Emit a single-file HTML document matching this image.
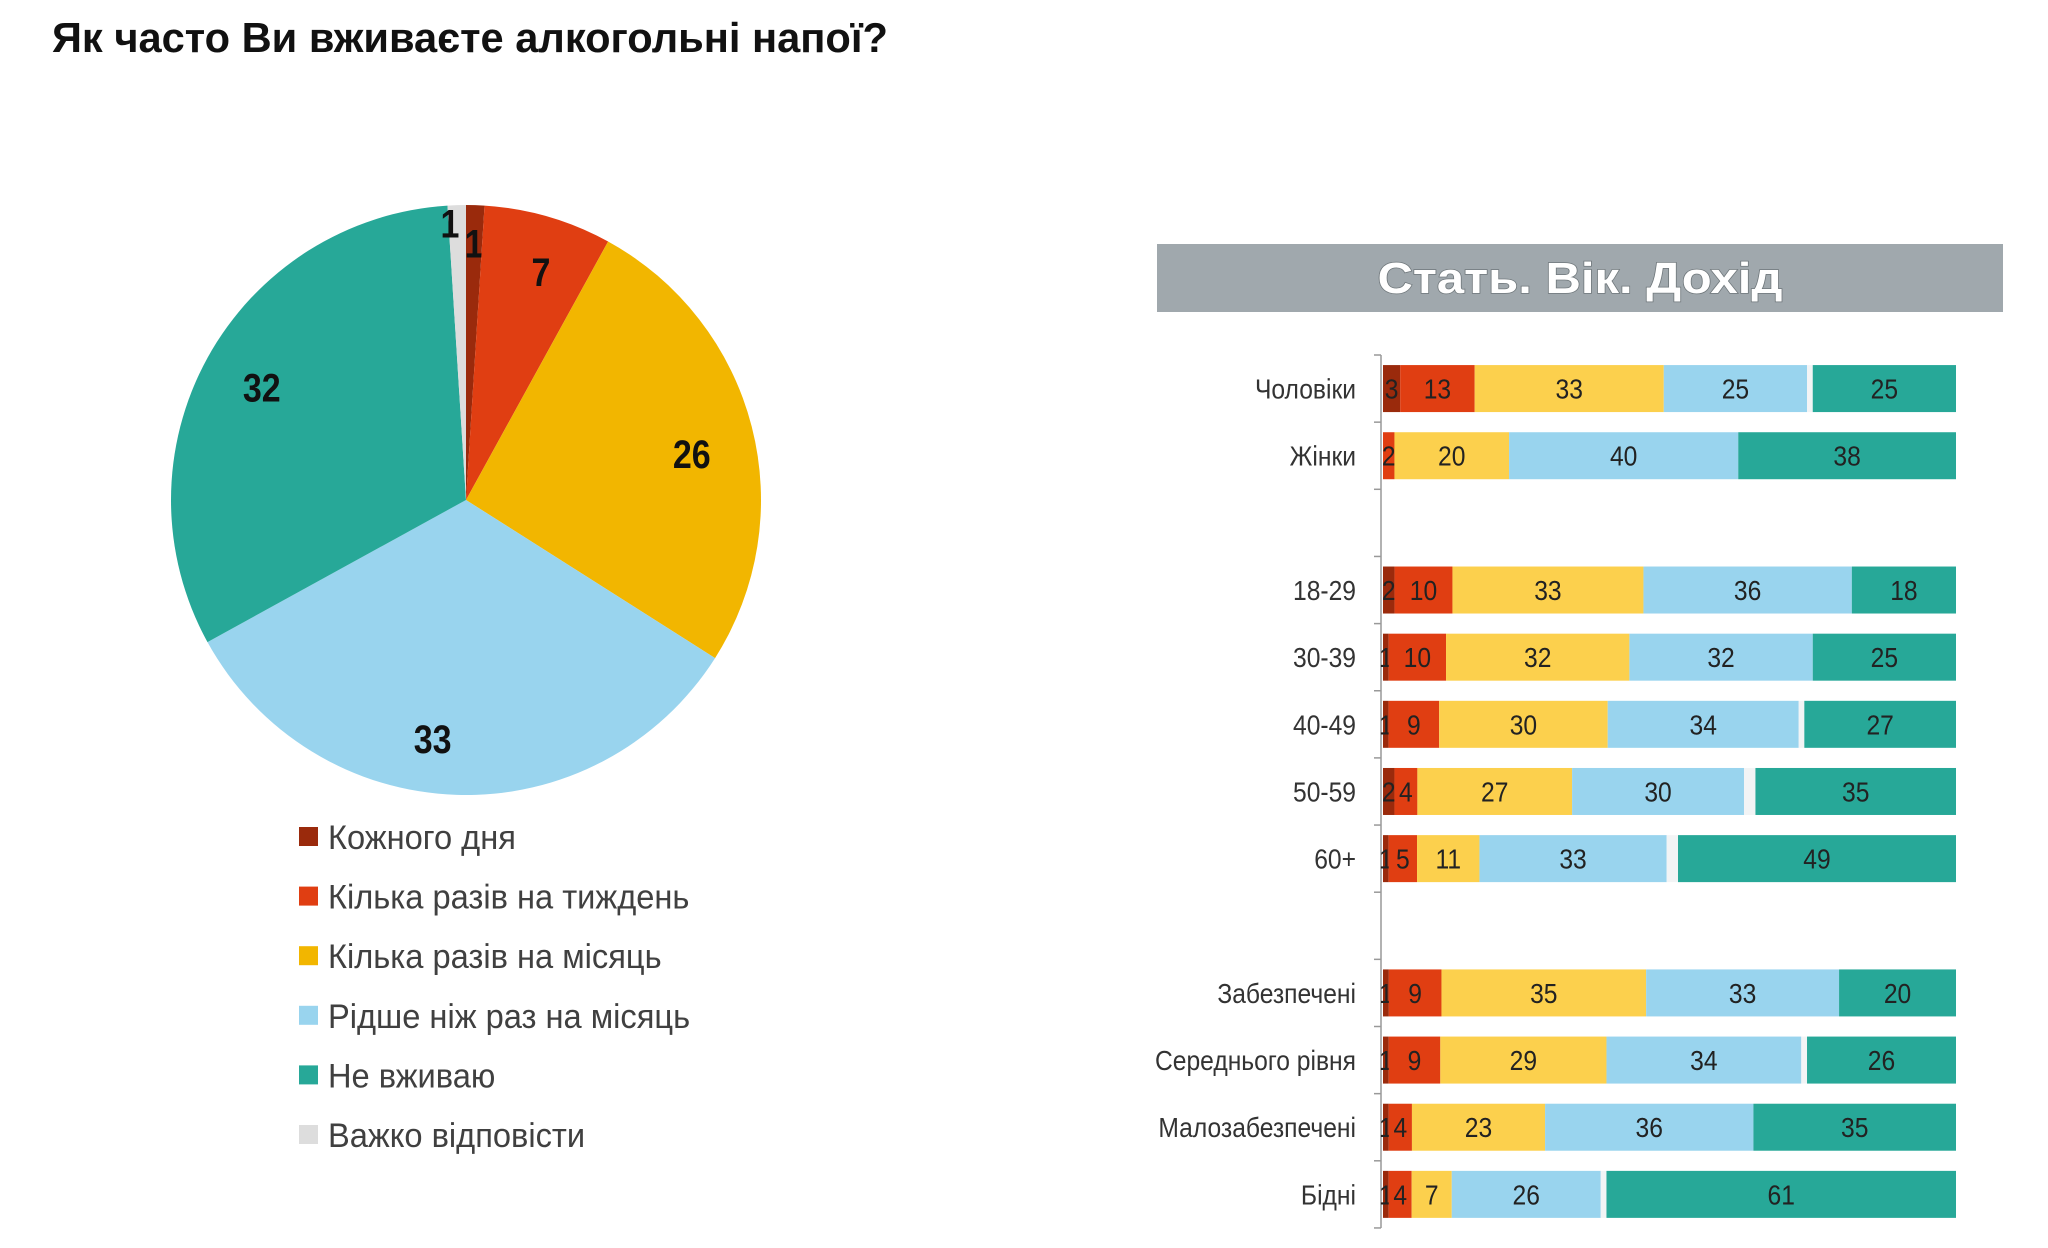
<!DOCTYPE html>
<html><head><meta charset="utf-8">
<style>
html,body{margin:0;padding:0;background:#fff;}
svg{display:block;font-family:"Liberation Sans","Noto Sans CJK SC",sans-serif;}
</style></head>
<body>
<svg id="root" width="2048" height="1248" viewBox="0 0 2048 1248" xmlns="http://www.w3.org/2000/svg">
  <text x="52" y="52" font-size="42" font-weight="bold" fill="#111" textLength="836" lengthAdjust="spacingAndGlyphs">Як часто Ви вживаєте алкогольні напої?</text>
  <g id="pie"></g>
  <g id="legend"></g>
  <rect x="1157" y="244" width="846" height="68" fill="#A0A8AD"/>
  <text x="1580" y="293" text-anchor="middle" font-size="44" font-weight="bold" fill="#fff" stroke="#6f777b" stroke-width="1.5" paint-order="stroke" textLength="405" lengthAdjust="spacingAndGlyphs">Стать. Вік. Дохід</text>
  <g id="bars"></g>
</svg>
<script>
const NS = "http://www.w3.org/2000/svg";
// ---- pie data ----
const pieCategories = ["Кожного дня","Кілька разів на тиждень","Кілька разів на місяць","Рідше ніж раз на місяць","Не вживаю","Важко відповісти"];
const pieValues = [1, 7, 26, 33, 32, 1];
const pieColors = ["#9A2A0C","#E03E12","#F2B600","#99D4EE","#27A898","#DDDDDD"];
const barColors = ["#9A2A0C","#E03E12","#FCD04D","#99D4EE","#F2F4F5","#27A898"];
// ---- bar data ----
const barCategories = ["Чоловіки","Жінки","","18-29","30-39","40-49","50-59","60+","","Забезпечені","Середнього рівня","Малозабезпечені","Бідні"];
const sDaily   = [3,0,null,2,1,1,2,1,null,1,1,1,1];
const sWeekly  = [13,2,null,10,10,9,4,5,null,9,9,4,4];
const sMonthly = [33,20,null,33,32,30,27,11,null,35,29,23,7];
const sRarer   = [25,40,null,36,32,34,30,33,null,33,34,36,26];
const sHard    = [1,0,null,0,0,1,2,2,null,0,1,0,1];
const sNone    = [25,38,null,18,25,27,35,49,null,20,26,35,61];

function mk(tag, attrs, parent){const e=document.createElementNS(NS,tag);for(const k in attrs)e.setAttribute(k,attrs[k]);parent.appendChild(e);return e;}
function squeeze(x,s){return `translate(${x},0) scale(${s},1) translate(${-x},0)`;}

// pie
const pie=document.getElementById('pie');
const cx=466, cy=500, R=295;
const total=pieValues.reduce((a,b)=>a+b,0);
let acc=0;
function pt(frac,r){const a=frac*2*Math.PI;return [cx+r*Math.sin(a), cy-r*Math.cos(a)];}
const labelShift=[[0,0],[10,-4],[0,12],[-26,6],[0,0],[-8,-20]];
pieValues.forEach((v,i)=>{
  const f0=acc/total, f1=(acc+v)/total; acc+=v;
  const p0=pt(f0,R), p1=pt(f1,R);
  const large=(f1-f0)>0.5?1:0;
  const path=mk('path',{d:`M${cx},${cy} L${p0[0]},${p0[1]} A${R},${R} 0 ${large} 1 ${p1[0]},${p1[1]} Z`,fill:pieColors[i]},pie);
  
  
  const mid=(f0+f1)/2;
  const rr=v<3?0.87*R:0.79*R;
  let lp=pt(mid,rr);
  lp=[lp[0]+labelShift[i][0],lp[1]+labelShift[i][1]];
  const t=mk('text',{x:lp[0],y:lp[1]+14,'text-anchor':'middle','font-size':40,'font-weight':'bold',fill:'#111',transform:squeeze(lp[0],0.85)},pie);
  t.textContent=v;
  
  
});
// legend
const lg=document.getElementById('legend');
pieCategories.forEach((c,i)=>{
  const y=837+i*59.6;
  const r=mk('rect',{x:299,y:y-10,width:19,height:19,fill:pieColors[i]},lg);
  
  
  const t=mk('text',{x:328,y:y+12,'font-size':34,fill:'#404040',transform:squeeze(328,0.96)},lg);
  t.textContent=c;
  
  
});
// bars
const bars=document.getElementById('bars');
const x0=1383, x1=1956, yTop=355, slot=67.15, bh=47;
function yCenter(i){return yTop+slot*(i+0.5);}
function xScale(v,sum){return (x1-x0)*v/sum;}
const axis=mk('line',{x1:x0-2,y1:yTop,x2:x0-2,y2:yTop+slot*barCategories.length,stroke:'#999','stroke-width':1.5},bars);


for(let i=0;i<=barCategories.length;i++){
  const tk=mk('line',{x1:x0-9,y1:yTop+slot*i,x2:x0-2,y2:yTop+slot*i,stroke:'#999','stroke-width':1.5},bars);
  
  
}
const series=[sDaily,sWeekly,sMonthly,sRarer,sHard,sNone];
barCategories.forEach((c,i)=>{
  if(sNone[i]===null) return;
  const yc=yCenter(i);
  const lab=mk('text',{x:1356,y:yc+10,'text-anchor':'end','font-size':28,fill:'#333',transform:squeeze(1356,0.88)},bars);
  lab.textContent=c;
  
  
  const sum=series.reduce((a,s)=>a+(s[i]||0),0);
  let cum=0;
  series.forEach((s,k)=>{
    const v=s[i]||0; if(v<=0){return;}
    const xs=x0+xScale(cum,sum), w=xScale(v,sum); cum+=v;
    const r=mk('rect',{x:xs,y:yc-bh/2,width:w,height:bh,fill:barColors[k]},bars);
    
    
    if(k===4) return;
    const tx=xs+w/2;
    const t=mk('text',{x:tx,y:yc+10,'text-anchor':'middle','font-size':28,fill:'#222',transform:squeeze(tx,0.88)},bars);
    t.textContent=v;
    
    
  });
});
</script>
</body></html>
